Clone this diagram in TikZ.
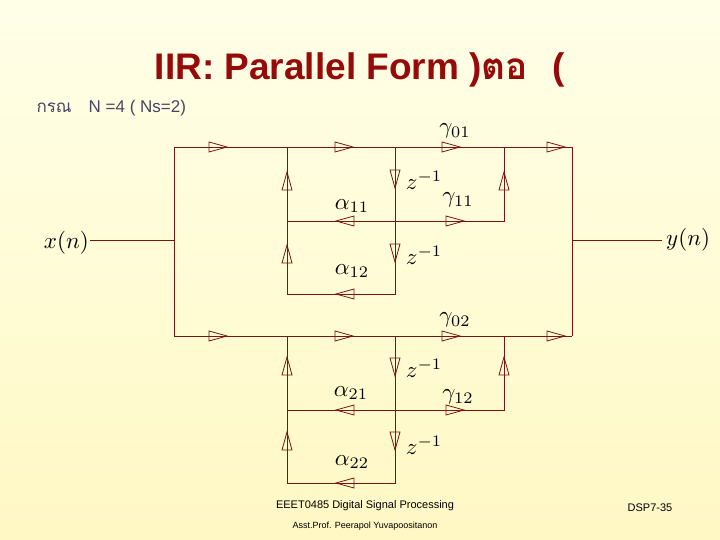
\documentclass[tikz,border=0pt]{standalone}
\usepackage{fontspec}
\setmainfont{Liberation Sans}
\newfontfamily\thaifont[Script=Thai]{Loma}
\newcommand{\lgmath}[1]{\scalebox{2.3}{$#1$}}
\begin{document}
\begin{tikzpicture}[x=1pt,y=-1pt,
  sig/.style={draw={rgb,255:red,120;green,20;blue,20},line width=0.8pt},
  tri/.pic={\draw[sig,line join=miter] (0,0) -- (-18,5) -- (-18,-5) -- cycle;},
  lab/.style={inner sep=0pt}]
\definecolor{ttl}{RGB}{150,10,10}
\shade[top color={rgb,255:red,255;green,255;blue,232},bottom color={rgb,255:red,255;green,248;blue,196}] (0,0) rectangle (720,540);
\useasboundingbox (0,0) rectangle (720,540);
\node[font=\fontsize{37}{37}\selectfont\bfseries,text=ttl] (title) at (360,70) {IIR: Parallel Form )\thaifont ตอ\ \ \normalfont\bfseries (};
\node[anchor=west,text={rgb,255:red,70;green,70;blue,100},font=\fontsize{17}{17}\selectfont] (sub) at (33,108) {{\thaifont กรณ}\quad N =4 ( Ns=2)};
\foreach \n/\y in {1/147,2/336}{
  \coordinate (L\n) at (174,\y);
  \coordinate (A\n) at (287,\y);
  \coordinate (D\n) at (395,\y);
  \coordinate (G\n) at (504,\y);
  \coordinate (R\n) at (572,\y);
}
\foreach \n/\y in {1/221,2/410}{
  \coordinate (Am\n) at (287,\y); \coordinate (Dm\n) at (395,\y); \coordinate (Gm\n) at (504,\y);}
\foreach \n/\y in {1/294,2/483}{
  \coordinate (Ab\n) at (287,\y); \coordinate (Db\n) at (395,\y);}
\coordinate (Lin) at (174,240); \coordinate (Rout) at (572,240);
\coordinate (Xin) at (90,240); \coordinate (Yout) at (662,240);
\node[lab,anchor=east] (x) at (89,243) {\lgmath{x(n)}};
\node[lab,anchor=west] (y) at (666,240) {\lgmath{y(n)}};
\draw[sig] (Xin) -- (Lin);
\draw[sig] (Rout) -- (Yout);
\draw[sig] (L1) -- (L2);
\draw[sig] (R1) -- (R2);
\foreach \n in {1,2}{
  \draw[sig] (L\n) -- (R\n);
  \draw[sig] (Am\n) -- (Gm\n) -- (G\n);
  \draw[sig] (A\n) -- (Ab\n) -- (Db\n) -- (D\n);
}
\foreach \y in {147,336}{
  \foreach \x in {227,353,460,565} \pic at (\x,\y) {tri};
}
\foreach \y in {221,410}{ \pic[rotate=180] at (336,\y) {tri}; \pic at (464,\y) {tri}; }
\foreach \y in {294,483}{ \pic[rotate=180] at (336,\y) {tri}; }
\foreach \t in {172,245,357,432}{ \pic[rotate=90] at (287,\t) {tri}; }
\foreach \t in {188,262,376,450}{ \pic[rotate=-90] at (395,\t) {tri}; }
\foreach \t in {172,357}{ \pic[rotate=90] at (504,\t) {tri}; }
\node[lab] (g01) at (455,131) {\lgmath{\gamma_{01}}};
\node[lab] (g11) at (458,200) {\lgmath{\gamma_{11}}};
\node[lab] (g02) at (455,320) {\lgmath{\gamma_{02}}};
\node[lab] (g12) at (458,397) {\lgmath{\gamma_{12}}};
\node[lab] (a11) at (352,206) {\lgmath{\alpha_{11}}};
\node[lab] (a12) at (352,271) {\lgmath{\alpha_{12}}};
\node[lab] (a21) at (351,393) {\lgmath{\alpha_{21}}};
\node[lab] (a22) at (352,462) {\lgmath{\alpha_{22}}};
\foreach \n/\y in {z1/180,z2/255,z3/368,z4/445}{ \node[lab] (\n) at (424,\y) {\lgmath{z^{-1}}}; }
\node[font=\fontsize{11}{11}\selectfont] (f1) at (365,506) {EEET0485 Digital Signal Processing};
\node[font=\fontsize{9}{9}\selectfont] (f2) at (365,526) {Asst.Prof. Peerapol Yuvapoositanon};
\node[font=\fontsize{11}{11}\selectfont] (f3) at (650,508) {DSP7-35};
\end{tikzpicture}
\end{document}
